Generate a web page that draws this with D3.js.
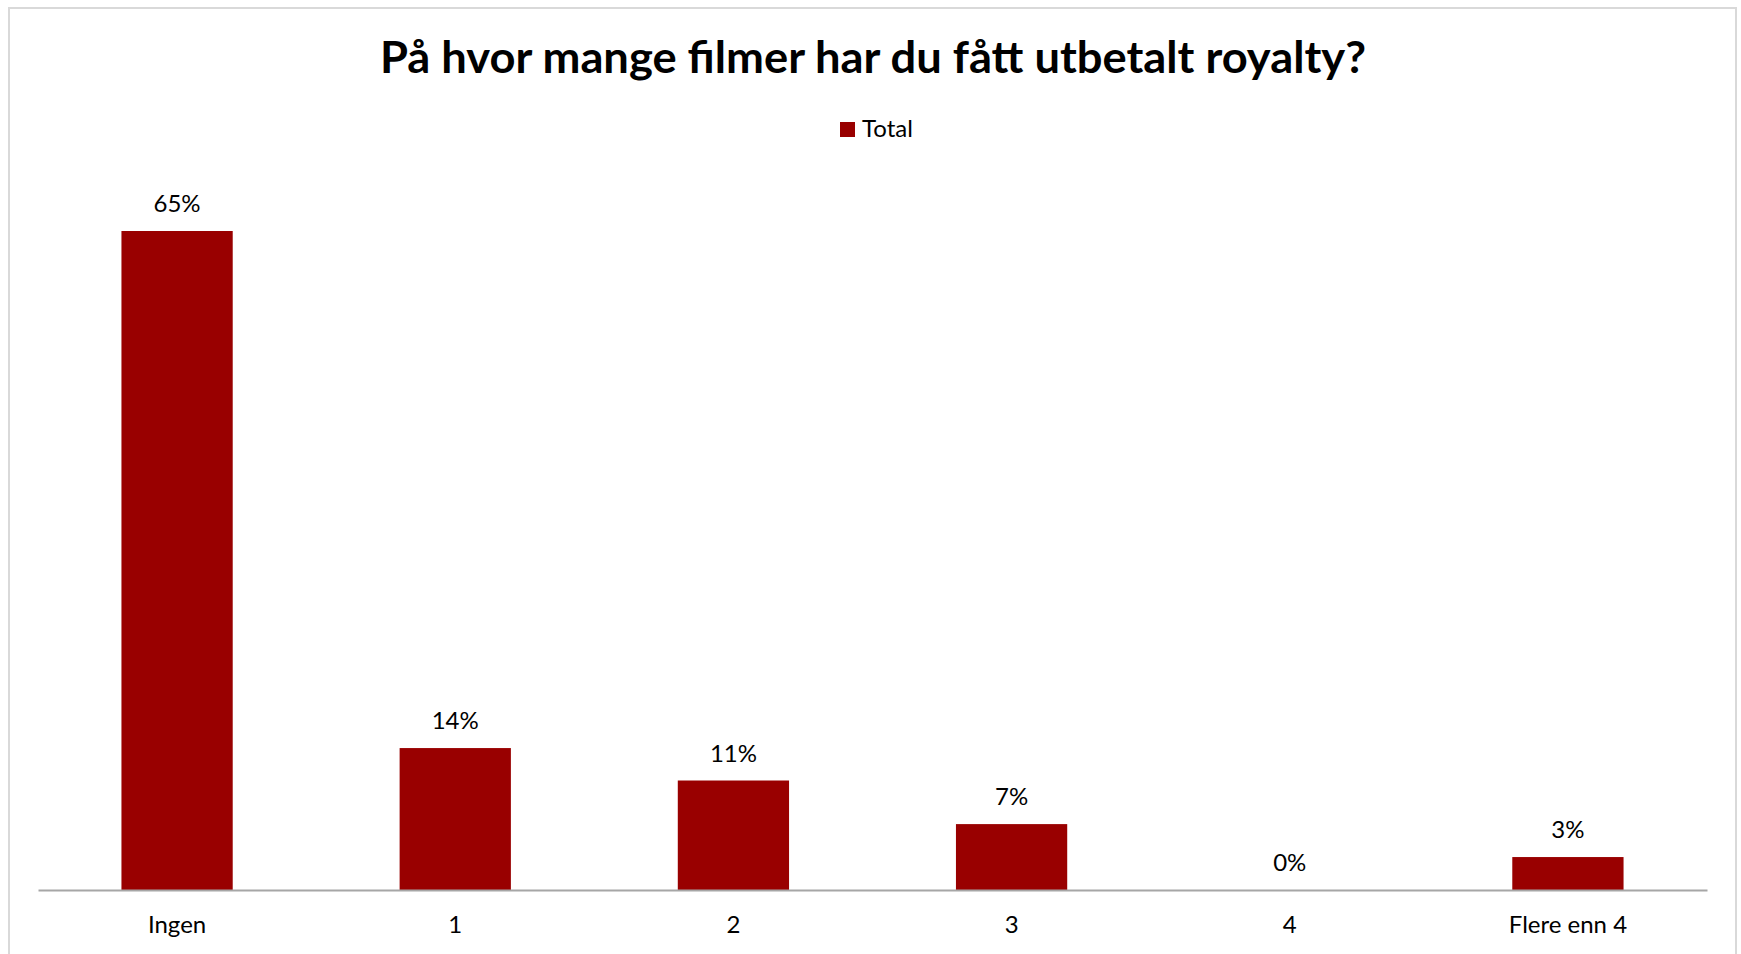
<!DOCTYPE html>
<html><head><meta charset="utf-8">
<script src="https://cdn.jsdelivr.net/npm/d3@7"></script>
<style>html,body{margin:0;padding:0;background:#fff;overflow:hidden}</style>
</head><body>
<svg id="c" width="1741" height="954"></svg>
<script>
const title = "På hvor mange filmer har du fått utbetalt royalty?";
const seriesName = "Total";
const categories = ["Ingen", "1", "2", "3", "4", "Flere enn 4"];
const values = [65, 14, 10.8, 6.5, 0, 3.25];
const labels = ["65%", "14%", "11%", "7%", "0%", "3%"];

const W = 1741, H = 954;
const color = "#990000";
const font = "Lato, 'Open Sans', sans-serif";
const fs = 24;
const svg = d3.select("#c");

svg.append("rect").attr("width", W).attr("height", H).attr("fill", "#fff");
// outer border
svg.append("path").attr("d", `M9,${H+5} V8 H1736 V${H+5}`).attr("fill","none")
  .attr("stroke","#d9d9d9").attr("stroke-width",2);

const x = d3.scaleBand().domain(categories).range([38, 1707]).padding(0);
const y = d3.scaleLinear().domain([0, 65]).range([890, 231]);
const barW = x.bandwidth() * 0.4;

svg.append("text").attr("x", 873).attr("y", 73).attr("text-anchor","middle")
  .attr("font-family", font).attr("font-weight","bold").attr("font-size", 44)
  .attr("textLength", 986).attr("lengthAdjust","spacingAndGlyphs")
  .attr("fill","#000").text(title);

// legend
svg.append("rect").attr("x", 840).attr("y", 122).attr("width", 15).attr("height", 15).attr("fill", color);
svg.append("text").attr("x", 862).attr("y", 137).attr("font-family", font).attr("font-size", fs)
  .attr("fill","#000").text(seriesName);

svg.selectAll("rect.bar").data(values).join("rect").attr("class","bar")
  .attr("x", (d,i) => x(categories[i]) + (x.bandwidth()-barW)/2)
  .attr("width", barW)
  .attr("y", d => y(d)).attr("height", d => y(0) - y(d)).attr("fill", color);

svg.selectAll("text.lbl").data(values).join("text").attr("class","lbl")
  .attr("x", (d,i) => x(categories[i]) + x.bandwidth()/2)
  .attr("y", d => y(d) - 19).attr("text-anchor","middle")
  .attr("font-family", font).attr("font-size", fs).attr("fill","#000")
  .text((d,i) => labels[i]);

const ax = svg.append("g").attr("transform", `translate(0,${y(0)})`)
  .call(d3.axisBottom(x).tickSize(0).tickPadding(0));
ax.select(".domain").attr("stroke","#a6a6a6").attr("stroke-width",2);
ax.selectAll("text").attr("font-family", font).attr("font-size", fs).attr("fill","#000")
  .attr("dy", null).attr("y", 43);
</script>
</body></html>
